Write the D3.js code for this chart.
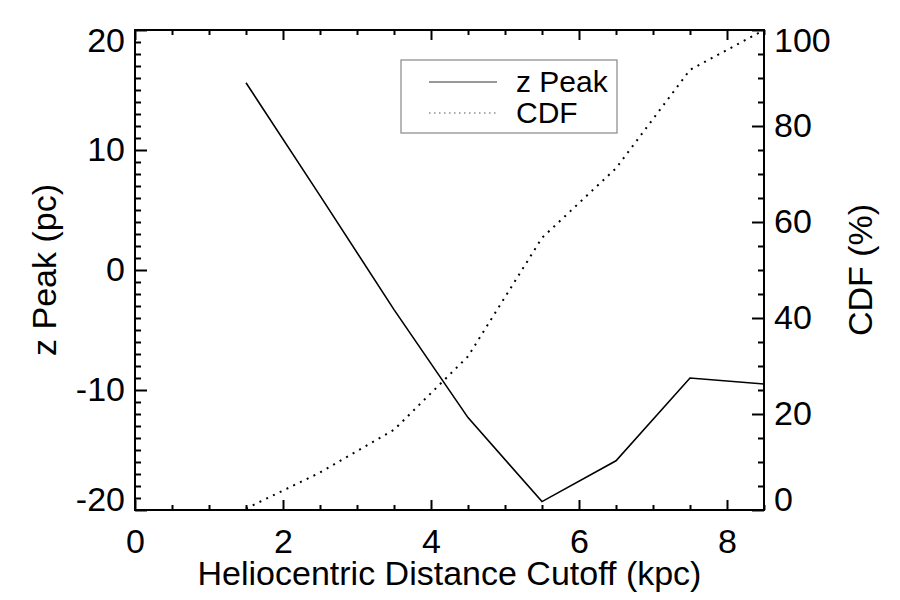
<!DOCTYPE html>
<html>
<head>
<meta charset="utf-8">
<script src="https://cdn.jsdelivr.net/npm/d3@7"></script>
<style>
  body { margin: 0; background: #fff; }
  svg text { font-family: "Liberation Sans", Arial, sans-serif; fill: #000; }
</style>
</head>
<body>
<script>
// distance cutoffs (kpc)
const cutoffs = [1.5, 2.5, 3.5, 4.5, 5.5, 6.5, 7.5, 8.5];
// z peak (pc)
const zPeak = [15.6, 6.2, -3.3, -12.3, -19.3, -15.9, -9.0, -9.5];
// cumulative distribution (%)
const cdf = [0.3, 7.8, 16.7, 32, 56.7, 71.2, 91.7, 100];

const xMajor = [0, 2, 4, 6, 8];
const zMajor = [-20, -10, 0, 10, 20];
const cdfMajor = [0, 20, 40, 60, 80, 100];

const width = 900;
const height = 600;
const margin = { top: 30, right: 136, bottom: 90, left: 135 };
const fontSize = 34;

const svg = d3.select('body')
  .append('svg')
  .attr('width', width)
  .attr('height', height);

// scales
const x = d3.scaleLinear()
  .domain([0, 8.5])
  .range([margin.left, width - margin.right]);

const yZ = d3.scaleLinear()
  .domain([-20, 20])
  .range([height - margin.bottom, margin.top]);

const yC = d3.scaleLinear()
  .domain([0, 100])
  .range([height - margin.bottom, margin.top]);

const xMinor = d3.range(0, 8.51, 0.5).filter(v => v % 2 !== 0);
const zMinor = d3.range(-20, 20.01, 1).filter(v => v % 10 !== 0);
const cMinor = d3.range(0, 100.01, 5).filter(v => v % 20 !== 0);

// plain hyphen for negatives, like the original
const plain = d => String(d);

// helper: draw an axis and strip the domain line
function drawAxis(axis, tx, ty) {
  const g = svg.append('g')
    .attr('transform', `translate(${tx},${ty})`)
    .call(axis);
  g.select('.domain').remove();
  g.selectAll('line').attr('stroke', '#000').attr('stroke-width', 2);
  g.selectAll('text')
    .style('font-size', fontSize + 'px')
    .style('font-family', '"Liberation Sans", Arial, sans-serif');
  return g;
}

const bottom = height - margin.bottom;
const right = width - margin.right;

// bottom x axis
drawAxis(d3.axisBottom(x).tickValues(xMajor).tickFormat(plain)
  .tickSizeInner(-10).tickSizeOuter(0).tickPadding(19), 0, bottom);
drawAxis(d3.axisBottom(x).tickValues(xMinor).tickFormat('')
  .tickSizeInner(-5).tickSizeOuter(0), 0, bottom);

// top x axis
drawAxis(d3.axisTop(x).tickValues(xMajor).tickFormat('')
  .tickSizeInner(-10).tickSizeOuter(0), 0, margin.top);
drawAxis(d3.axisTop(x).tickValues(xMinor).tickFormat('')
  .tickSizeInner(-5).tickSizeOuter(0), 0, margin.top);

// left y axis (z peak)
const leftAx = drawAxis(d3.axisLeft(yZ).tickValues(zMajor).tickFormat(plain)
  .tickSizeInner(-12).tickSizeOuter(0).tickPadding(10), margin.left, 0);
drawAxis(d3.axisLeft(yZ).tickValues(zMinor).tickFormat('')
  .tickSizeInner(-6).tickSizeOuter(0), margin.left, 0);

// right y axis (cdf)
const rightAx = drawAxis(d3.axisRight(yC).tickValues(cdfMajor).tickFormat(plain)
  .tickSizeInner(-12).tickSizeOuter(0).tickPadding(10), right, 0);
drawAxis(d3.axisRight(yC).tickValues(cMinor).tickFormat('')
  .tickSizeInner(-6).tickSizeOuter(0), right, 0);

// keep end labels inside the frame height
[leftAx, rightAx].forEach(g => {
  const texts = g.selectAll('text');
  const n = texts.size();
  texts.attr('dy', (d, i) => i === 0 ? '0.0em' : (i === n - 1 ? '0.62em' : '0.32em'));
});

// frame
svg.append('rect')
  .attr('x', margin.left)
  .attr('y', margin.top)
  .attr('width', right - margin.left)
  .attr('height', bottom - margin.top)
  .attr('fill', 'none')
  .attr('stroke', '#000')
  .attr('stroke-width', 2);

// data lines
const zLine = d3.line()
  .x((d, i) => x(cutoffs[i]))
  .y(d => yZ(d));

const cLine = d3.line()
  .x((d, i) => x(cutoffs[i]))
  .y(d => yC(d));

svg.append('path')
  .datum(zPeak)
  .attr('d', zLine)
  .attr('fill', 'none')
  .attr('stroke', '#000')
  .attr('stroke-width', 1.6);

svg.append('path')
  .datum(cdf)
  .attr('d', cLine)
  .attr('fill', 'none')
  .attr('stroke', '#000')
  .attr('stroke-width', 2)
  .attr('stroke-dasharray', '2 5.5');

// axis titles
svg.append('text')
  .attr('x', (margin.left + right) / 2)
  .attr('y', 585)
  .attr('text-anchor', 'middle')
  .style('font-size', fontSize + 'px')
  .text('Heliocentric Distance Cutoff (kpc)');

svg.append('text')
  .attr('transform', `translate(56,${(margin.top + bottom) / 2}) rotate(-90)`)
  .attr('text-anchor', 'middle')
  .style('font-size', fontSize + 'px')
  .text('z Peak (pc)');

svg.append('text')
  .attr('transform', `translate(872,${(margin.top + bottom) / 2}) rotate(-90)`)
  .attr('text-anchor', 'middle')
  .style('font-size', fontSize + 'px')
  .text('CDF (%)');

// legend
const legend = svg.append('g');
legend.append('rect')
  .attr('x', 401).attr('y', 60)
  .attr('width', 216).attr('height', 73)
  .attr('fill', '#fff')
  .attr('stroke', '#888')
  .attr('stroke-width', 1.2);

const legendItems = [
  { name: 'z Peak', dash: null, y: 82 },
  { name: 'CDF', dash: '1.5 3.5', y: 113 }
];

legendItems.forEach(d => {
  legend.append('line')
    .attr('x1', 429).attr('x2', 497)
    .attr('y1', d.y).attr('y2', d.y)
    .attr('stroke', d.dash ? '#555' : '#333')
    .attr('stroke-width', 1)
    .attr('stroke-dasharray', d.dash);
  legend.append('text')
    .attr('x', 516)
    .attr('y', d.y + 10)
    .style('font-size', '30px')
    .text(d.name);
});
</script>
</body>
</html>
